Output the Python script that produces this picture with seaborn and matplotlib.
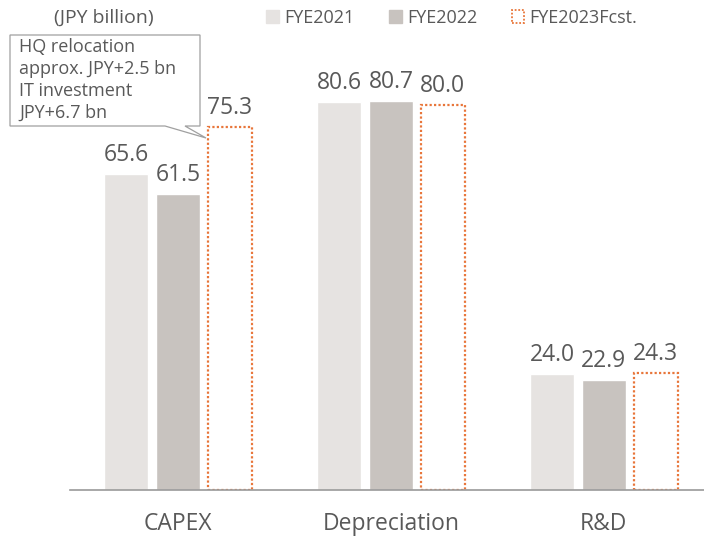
import matplotlib
matplotlib.use("Agg")
import matplotlib.pyplot as plt
import seaborn as sns
import pandas as pd
from matplotlib.patches import Patch, Polygon

categories = ["CAPEX", "Depreciation", "R&D"]
series = ["FYE2021", "FYE2022", "FYE2023Fcst."]
fye2021 = [65.6, 80.6, 24.0]
fye2022 = [61.5, 80.7, 22.9]
fye2023 = [75.3, 80.0, 24.3]
unit_label = "(JPY billion)"
note_text = "HQ relocation\napprox. JPY+2.5 bn\nIT investment\nJPY+6.7 bn"

df = pd.DataFrame({
    "category": categories * 3,
    "series": [s for s in series for _ in categories],
    "value": fye2021 + fye2022 + fye2023,
})

sns.set_theme(style="white")
plt.rcParams["font.family"] = ["Open Sans", "DejaVu Sans"]

c1, c2, c3 = "#E6E3E1", "#C8C3BF", "#E8763A"
txt = "#595959"

fig = plt.figure(figsize=(7.04, 5.42), dpi=100)
ax = fig.add_axes([70 / 704, 1 - 490 / 542, 634 / 704, 450 / 542])

sns.barplot(data=df, x="category", y="value", hue="series", hue_order=series,
            palette=[c1, c2, "white"], width=0.73, gap=0.15, ax=ax,
            legend=False, saturation=1)

for bar in ax.containers[2]:
    bar.set_edgecolor(c3)
    bar.set_linestyle((0, (1, 1)))
    bar.set_linewidth(1.6)

for cont in ax.containers:
    ax.bar_label(cont, fmt="%.1f", padding=5, fontsize=16.5, color=txt)

ax.set_ylim(0, 93.4)
ax.set_xlim(-0.507, 2.47)
ax.set_xlabel("")
ax.set_ylabel("")
ax.set_yticks([])
for s in ["top", "right", "left"]:
    ax.spines[s].set_visible(False)
ax.spines["bottom"].set_color("#9a9a9a")
ax.spines["bottom"].set_linewidth(1.2)
ax.tick_params(axis="x", length=0, pad=16, labelsize=16.5, colors=txt)

handles = [Patch(facecolor=c1, edgecolor=c1),
           Patch(facecolor=c2, edgecolor=c2),
           Patch(facecolor="white", edgecolor=c3, linestyle=(0, (1, 1)), linewidth=1.3)]
fig.legend(handles, series, loc="center", bbox_to_anchor=(452 / 704, 1 - 18 / 542),
           ncol=3, frameon=False, fontsize=13, labelcolor=txt,
           handlelength=0.7, handleheight=0.7, handletextpad=0.3, columnspacing=1.9)

fig.text(104 / 704, 1 - 18 / 542, unit_label, ha="center", va="center",
         fontsize=14, color=txt)

fig.text(19 / 704, 1 - 80 / 542, note_text, ha="left", va="center",
         fontsize=13, color=txt, linespacing=1.28)
box = Polygon([(10 / 704, 1 - 35 / 542), (200 / 704, 1 - 35 / 542),
               (200 / 704, 1 - 126 / 542), (185 / 704, 1 - 126 / 542),
               (206 / 704, 1 - 138 / 542), (165 / 704, 1 - 126 / 542),
               (10 / 704, 1 - 126 / 542)],
              closed=True, transform=fig.transFigure, facecolor="white",
              edgecolor="#a0a0a0", linewidth=0.9, zorder=0)
fig.patches.append(box)

fig.savefig("out.png", dpi=100)
